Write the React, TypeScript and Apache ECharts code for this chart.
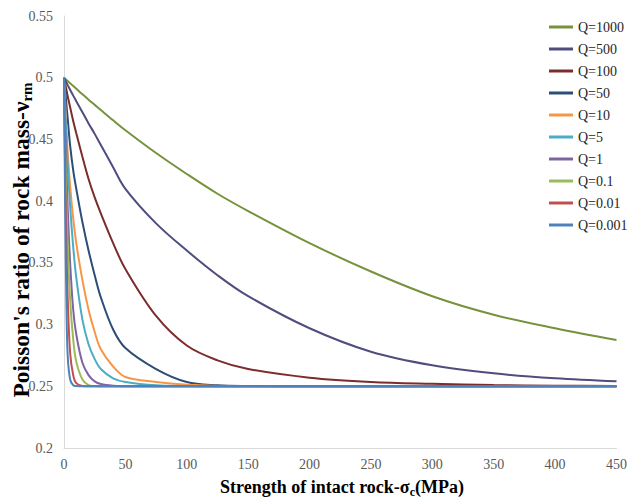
import React, { useEffect, useRef } from "react";
import * as echarts from "echarts";

const xValues = [0, 1, 2, 3, 5, 7.5, 10, 15, 20, 25, 30, 40, 50, 75, 100, 125, 150, 200, 250, 300, 350, 400, 450];

const seriesNames = ["Q=1000", "Q=500", "Q=100", "Q=50", "Q=10", "Q=5", "Q=1", "Q=0.1", "Q=0.01", "Q=0.001"];
const seriesColors = ["#76923C", "#4E4D7E", "#7B2C2C", "#2C4D75", "#F79646", "#4BACC6", "#8064A2", "#9BBB59", "#C0504D", "#4F81BD"];

const q1000 = [0.5, 0.4991, 0.4982, 0.4973, 0.4955, 0.4933, 0.491, 0.4866, 0.4822, 0.478, 0.4738, 0.4655, 0.4575, 0.439, 0.422, 0.406, 0.392, 0.366, 0.343, 0.323, 0.308, 0.297, 0.2875];
const q500 = [0.5, 0.498, 0.496, 0.494, 0.4902, 0.4855, 0.481, 0.472, 0.463, 0.4545, 0.4455, 0.4275, 0.41, 0.382, 0.36, 0.34, 0.323, 0.297, 0.278, 0.267, 0.2605, 0.2565, 0.254];
const q100 = [0.5, 0.495, 0.49, 0.485, 0.476, 0.465, 0.455, 0.436, 0.418, 0.403, 0.39, 0.366, 0.345, 0.307, 0.283, 0.271, 0.264, 0.257, 0.2535, 0.252, 0.251, 0.2505, 0.2503];
const q50 = [0.5, 0.49, 0.478, 0.467, 0.445, 0.425, 0.41, 0.383, 0.36, 0.34, 0.322, 0.296, 0.281, 0.264, 0.2535, 0.2508, 0.2502, 0.25, 0.25, 0.25, 0.25, 0.25, 0.25];
const q10 = [0.5, 0.478, 0.458, 0.44, 0.412, 0.386, 0.366, 0.336, 0.312, 0.294, 0.28, 0.266, 0.2575, 0.2535, 0.2512, 0.2503, 0.2501, 0.25, 0.25, 0.25, 0.25, 0.25, 0.25];
const q5 = [0.5, 0.474, 0.45, 0.43, 0.396, 0.363, 0.338, 0.304, 0.284, 0.272, 0.264, 0.2565, 0.2535, 0.2508, 0.2502, 0.25, 0.25, 0.25, 0.25, 0.25, 0.25, 0.25, 0.25];
const q1 = [0.5, 0.46, 0.425, 0.395, 0.35, 0.312, 0.292, 0.269, 0.259, 0.254, 0.2518, 0.2504, 0.2501, 0.25, 0.25, 0.25, 0.25, 0.25, 0.25, 0.25, 0.25, 0.25, 0.25];
const q0_1 = [0.5, 0.44, 0.398, 0.365, 0.32, 0.288, 0.27, 0.2555, 0.251, 0.2502, 0.25, 0.25, 0.25, 0.25, 0.25, 0.25, 0.25, 0.25, 0.25, 0.25, 0.25, 0.25, 0.25];
const q0_01 = [0.5, 0.42, 0.362, 0.322, 0.277, 0.259, 0.2525, 0.2503, 0.25, 0.25, 0.25, 0.25, 0.25, 0.25, 0.25, 0.25, 0.25, 0.25, 0.25, 0.25, 0.25, 0.25, 0.25];
const q0_001 = [0.5, 0.39, 0.315, 0.275, 0.2555, 0.2508, 0.2502, 0.25, 0.25, 0.25, 0.25, 0.25, 0.25, 0.25, 0.25, 0.25, 0.25, 0.25, 0.25, 0.25, 0.25, 0.25, 0.25];

const seriesValues = [q1000, q500, q100, q50, q10, q5, q1, q0_1, q0_01, q0_001];

const FONT = "Liberation Serif";

export default function App() {
  const ref = useRef<HTMLDivElement>(null);
  useEffect(() => {
    if (!ref.current) return;
    const chart = echarts.init(ref.current, null, { renderer: "svg" });
    chart.setOption({
      animation: false,
      backgroundColor: "#ffffff",
      textStyle: { fontFamily: FONT },
      grid: { left: 64, right: 10, top: 16, bottom: 53, containLabel: false },
      xAxis: {
        type: "value",
        min: 0,
        max: 450,
        interval: 50,
        axisLine: { show: true, lineStyle: { color: "#D9D9D9", width: 1 } },
        axisTick: { show: false },
        splitLine: { show: false },
        axisLabel: { color: "#595959", fontFamily: FONT, fontSize: 14, margin: 9 },
      },
      yAxis: {
        type: "value",
        min: 0.2,
        max: 0.55,
        interval: 0.05,
        axisLine: { show: true, lineStyle: { color: "#D9D9D9", width: 1 } },
        axisTick: { show: false },
        splitLine: { show: false },
        axisLabel: { color: "#595959", fontFamily: FONT, fontSize: 14, margin: 11 },
      },
      legend: {
        orient: "vertical",
        left: 544,
        top: 14,
        itemWidth: 24,
        itemHeight: 3,
        itemGap: 6,
        icon: "rect",
        textStyle: { color: "#262626", fontFamily: FONT, fontSize: 14, lineHeight: 16 },
        data: seriesNames,
      },
      series: seriesNames.map((name, i) => ({
        name,
        type: "line",
        data: xValues.map((x, j) => [x, seriesValues[i][j]]),
        showSymbol: false,
        symbol: "none",
        smooth: 0.35,
        lineStyle: { color: seriesColors[i], width: 2 },
        itemStyle: { color: seriesColors[i] },
      })),
      graphic: [
        {
          type: "text",
          x: 21,
          y: 240,
          rotation: Math.PI / 2,
          style: {
            text: "{b|Poisson's ratio of rock mass-ν}{s|rm}",
            align: "center",
            verticalAlign: "middle",
            rich: {
              b: { fontFamily: FONT, fontWeight: "bold", fontSize: 23.5, fill: "#000", lineHeight: 26, verticalAlign: "middle" },
              s: { fontFamily: FONT, fontWeight: "bold", fontSize: 15, fill: "#000", lineHeight: 14, verticalAlign: "bottom" },
            },
          },
        },
        {
          type: "text",
          x: 342,
          y: 487,
          style: {
            text: "{b|Strength of intact rock-σ}{s|c}{b|(MPa)}",
            align: "center",
            verticalAlign: "middle",
            rich: {
              b: { fontFamily: FONT, fontWeight: "bold", fontSize: 18, fill: "#000", lineHeight: 22, verticalAlign: "middle" },
              s: { fontFamily: FONT, fontWeight: "bold", fontSize: 12, fill: "#000", lineHeight: 12, verticalAlign: "bottom" },
            },
          },
        },
      ],
    });
    return () => chart.dispose();
  }, []);
  return <div ref={ref} style={{ width: 630, height: 501, position: "absolute", left: 0, top: 0 }} />;
}
